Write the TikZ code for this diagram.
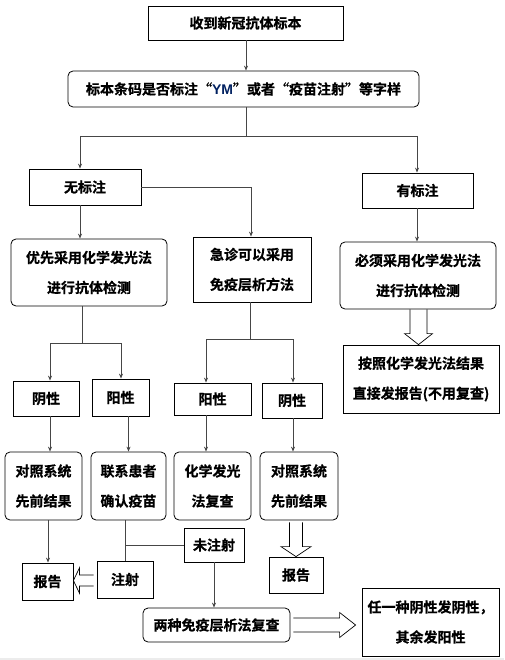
\documentclass[tikz,border=0pt]{standalone}
\usepackage{fontspec}
\newfontfamily\cjkb[FakeBold=0.8]{Noto Sans CJK SC Bold}
\usetikzlibrary{calc,arrows.meta}
\definecolor{ymblue}{RGB}{0,32,96}
\definecolor{linegray}{RGB}{70,70,70}
\newcommand{\hollowdown}[5]{%
  \draw[hollow] ($(#1)+(-#3,0)$) -- ($(#2)+(-#3,-#5)$) -- ($(#2)+(-#4,-#5)$) -- (#2)
    -- ($(#2)+(#4,-#5)$) -- ($(#2)+(#3,-#5)$) -- ($(#1)+(#3,0)$);}
\newcommand{\hollowside}[5]{%
  \draw[hollow] ($(#1)+(0,-#3)$) -- ($(#2)+(-#5,-#3)$) -- ($(#2)+(-#5,-#4)$) -- (#2)
    -- ($(#2)+(-#5,#4)$) -- ($(#2)+(-#5,#3)$) -- ($(#1)+(0,#3)$);}
\begin{document}
\begin{tikzpicture}[x=1pt,y=-1pt,
  box/.style={draw=black,line width=0.8pt,inner sep=0pt,align=center,
    font=\cjkb\fontsize{14}{30}\selectfont},
  rbox/.style={box,rounded corners=5pt},
  conn/.style={draw=linegray,line width=0.8pt},
  arr/.style={conn,-{Stealth[length=5pt,width=4pt]}},
  hollow/.style={draw=black,line width=0.7pt,line join=miter}]
\useasboundingbox (0,0) rectangle (504,660);
\fill[gray!15] (0,658) rectangle (504,660);

\node[box,minimum width=195pt,minimum height=34pt] (top) at (245.5,23) {收到新冠抗体标本};
\node[rbox,minimum width=351pt,minimum height=36pt] (q) at (243.5,89)
  {标本条码是否标注“\textcolor{ymblue}{\fontspec{Liberation Sans Bold}YM}”或者“疫苗注射”等字样};
\node[box,minimum width=112pt,minimum height=36pt] (none) at (85,187) {无标注};
\node[box,minimum width=111pt,minimum height=35pt] (has) at (417.5,190.5) {有标注};
\node[rbox,minimum width=156pt,minimum height=67pt] (chem1) at (89,272.5) {优先采用化学发光法\\进行抗体检测};
\node[box,minimum width=118pt,minimum height=65pt] (emer) at (252,269.5) {急诊可以采用\\免疫层析方法};
\node[rbox,minimum width=156pt,minimum height=67pt] (must) at (418,275.5) {必须采用化学发光法\\进行抗体检测};
\node[box,minimum width=156pt,minimum height=68pt] (press) at (421,379) {按照化学发光法结果\\直接发报告(不用复查)};
\node[box,minimum width=66pt,minimum height=35pt] (neg1) at (46,398.5) {阴性};
\node[box,minimum width=57pt,minimum height=37pt] (pos1) at (120.5,397.5) {阳性};
\node[box,minimum width=77pt,minimum height=32pt] (pos2) at (212.5,399) {阳性};
\node[box,minimum width=60pt,minimum height=35pt] (neg2) at (292,400.5) {阴性};
\node[rbox,minimum width=77pt,minimum height=68pt] (cmp1) at (43.5,486) {对照系统\\先前结果};
\node[rbox,minimum width=75pt,minimum height=68pt] (contact) at (128.5,486) {联系患者\\确认疫苗};
\node[rbox,minimum width=77pt,minimum height=68pt] (chemre) at (212.5,486) {化学发光\\法复查};
\node[rbox,minimum width=78pt,minimum height=68pt] (cmp2) at (299,486) {对照系统\\先前结果};
\node[box,minimum width=51pt,minimum height=37pt] (rep1) at (47.5,581.5) {报告};
\node[box,minimum width=56pt,minimum height=37pt] (inj) at (125,579.5) {注射};
\node[box,minimum width=60pt,minimum height=34pt] (noinj) at (214,545) {未注射};
\node[box,minimum width=54pt,minimum height=36pt] (rep2) at (296,575) {报告};
\node[rbox,minimum width=147pt,minimum height=34pt] (two) at (216.5,625) {两种免疫层析法复查};
\node[box,minimum width=137pt,minimum height=68pt] (any) at (430.5,622) {任一种阴性发阴性，\\其余发阳性};

% connectors
\draw[arr] (top.south -| q.north) ++(2.5,0) coordinate (t0) -- (t0 |- q.north);
\coordinate (jL) at (80,136);
\coordinate (jR) at (417,136);
\draw[conn] ([xshift=2.5pt]q.south) -- ([xshift=2.5pt]q.south |- jL);
\draw[conn] (jL) -- (jR);
\draw[arr] (jL) -- (jL |- none.north);
\draw[arr] (jR) -- (jR |- has.north);
\draw[arr] (none.east) -| ([xshift=-1pt]emer.north);
\draw[arr] ([xshift=-5pt]none.south) -- ([xshift=-5pt]none.south |- chem1.north);
\draw[arr] (jR |- has.south) -- (jR |- must.north);

\coordinate (jA1) at (50,343);
\coordinate (jA2) at (121,343);
\draw[conn] ([xshift=-7pt]chem1.south) -- ([xshift=-7pt]chem1.south |- jA1);
\draw[conn] (jA1) -- (jA2);
\draw[arr] (jA1) -- (jA1 |- neg1.north);
\draw[arr] (jA2) -- (jA2 |- pos1.north);

\coordinate (jB1) at (206,339);
\coordinate (jB2) at (293,339);
\draw[conn] ([xshift=-2pt]emer.south) -- ([xshift=-2pt]emer.south |- jB1);
\draw[conn] (jB1) -- (jB2);
\draw[arr] (jB1) -- (jB1 |- pos2.north);
\draw[arr] (jB2) -- (jB2 |- neg2.north);

\draw[arr] (jA1 |- neg1.south) -- (jA1 |- cmp1.north);
\draw[arr] (contact.north |- pos1.south) -- (contact.north);
\draw[arr] (jB1 |- pos2.south) -- (jB1 |- chemre.north);
\draw[arr] (jB2 |- neg2.south) -- (jB2 |- cmp2.north);

\draw[arr] ([xshift=4.5pt]cmp1.south) -- ([xshift=4.5pt]cmp1.south |- rep1.north);
\draw[conn] (inj.north |- contact.south) -- (inj.north);
\coordinate (jC) at (125,545);
\draw[conn] (jC) -- (jC -| noinj.west);
\draw[arr] (noinj.south) -- (noinj.south |- two.north);

% hollow arrows
\coordinate (hm1) at ([xshift=0.5pt]must.south);
\coordinate (hm2) at (hm1 |- press.north);
\hollowdown{hm1}{hm2}{8.5}{14}{11}
\coordinate (hc1) at ([yshift=-2pt]rep2.north |- cmp2.south);
\coordinate (hc2) at (rep2.north);
\hollowdown{hc1}{hc2}{6.5}{15}{10}
\coordinate (hi1) at ([yshift=-1pt,xshift=-3pt]inj.west);
\coordinate (hi2) at (hi1 -| rep1.east);
\hollowside{hi1}{hi2}{5.5}{12.5}{-6}
\coordinate (ht1) at ([xshift=3pt]two.east);
\coordinate (ht2) at ([xshift=-6pt]ht1 -| any.west);
\hollowside{ht1}{ht2}{7}{12.5}{16}
\end{tikzpicture}
\end{document}
